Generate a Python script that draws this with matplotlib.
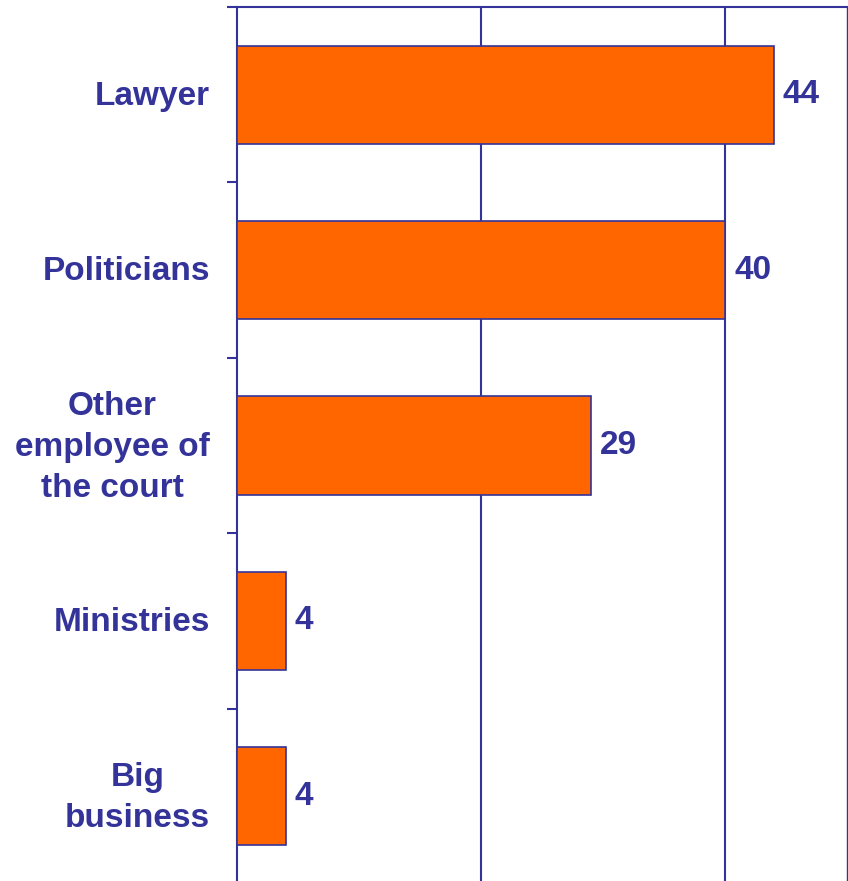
import numpy as np
import matplotlib.pyplot as plt

categories = ["Lawyer", "Politicians", "Other\nemployee of\nthe court", "Ministries", "Big\nbusiness"]
values = [44, 40, 29, 4, 4]

navy = "#333399"
orange = "#FF6600"

plt.rcParams['font.family'] = ['Liberation Sans', 'DejaVu Sans']

fig = plt.figure(figsize=(8.48, 8.81), dpi=100)
ax = fig.add_axes([237 / 848, -3 / 881, 610 / 848, 877 / 881])

y = np.arange(len(categories))
ax.barh(y, values, height=0.56, color=orange, edgecolor=navy, linewidth=1.2, zorder=3)

for yi, v in zip(y, values):
    ax.text(v + 0.75, yi, str(v), va="center", ha="left", fontsize=24,
            fontweight="bold", color=navy)

ax.set_xlim(0, 50)
ax.set_ylim(len(categories) - 0.5, -0.5)

# vertical gridlines every 20
for gx in (20, 40):
    ax.axvline(gx, color=navy, linewidth=1.5, zorder=1)

# category labels, right aligned against the axis
ax.set_yticks([])
for yi, name in zip(y, categories):
    ax.text(-27 / 12.2, yi + 0.01, name, ha="right", va="center", multialignment="center",
            fontsize=24, fontweight="bold", color=navy, linespacing=1.42)

# tick marks between categories
ax.set_yticks(np.arange(-0.5, len(categories) + 0.5, 1), minor=True)
ax.tick_params(axis="y", which="minor", length=7.5, width=1.5, color=navy, direction="out")
ax.set_xticks([])

for side in ("left", "top", "right"):
    ax.spines[side].set_color(navy)
    ax.spines[side].set_linewidth(1.5)
ax.spines["right"].set_linewidth(1.0)
ax.spines["bottom"].set_visible(False)

fig.savefig("out.png", dpi=100)
